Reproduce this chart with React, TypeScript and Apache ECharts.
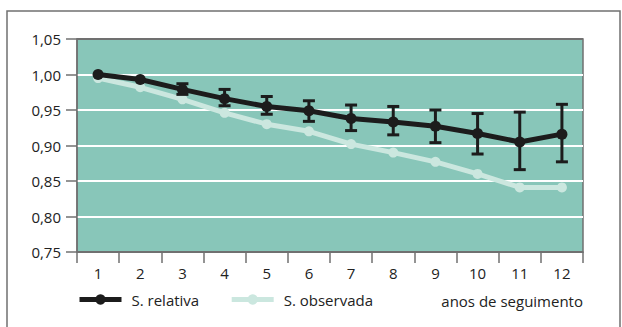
import React, { useEffect, useRef } from "react";
import * as echarts from "echarts";

const categories = ["1", "2", "3", "4", "5", "6", "7", "8", "9", "10", "11", "12"];
const relativa = [1.0, 0.993, 0.979, 0.966, 0.955, 0.949, 0.938, 0.933, 0.927, 0.917, 0.905, 0.916];
const relativaLow = [null, null, 0.972, 0.956, 0.944, 0.934, 0.921, 0.915, 0.904, 0.888, 0.866, 0.877];
const relativaHigh = [null, null, 0.987, 0.979, 0.969, 0.963, 0.957, 0.955, 0.950, 0.945, 0.947, 0.958];
const observada = [0.995, 0.982, 0.965, 0.946, 0.930, 0.920, 0.902, 0.890, 0.877, 0.860, 0.841, 0.841];
const legendNames = ["S. relativa", "S. observada"];
const xAxisTitle = "anos de seguimento";

const BLACK = "#1c1c1c";
const LIGHT = "#cbe7df";
const PLOT_BG = "#88c6b9";
const GRAY = "#707070";
const TEXT = "#222222";
const FONT = "Open Sans";
const FS = 15;

export default function App() {
  const ref = useRef<HTMLDivElement>(null);
  useEffect(() => {
    if (!ref.current) return;
    const chart = echarts.init(ref.current, undefined, { renderer: "svg" });
    const errData = categories
      .map((_, i) => [i, relativaLow[i], relativaHigh[i]])
      .filter((d) => d[1] !== null && d[2] !== null);
    chart.setOption({
      animation: false,
      backgroundColor: "#ffffff",
      textStyle: { fontFamily: FONT },
      grid: {
        left: 77,
        top: 39,
        right: 39,
        bottom: 75,
        show: true,
        backgroundColor: PLOT_BG,
        borderColor: GRAY,
        borderWidth: 1.5,
      },
      legend: {
        data: legendNames,
        left: 77,
        top: 292,
        padding: 0,
        itemWidth: 42,
        itemHeight: 13,
        itemGap: 30,
        lineStyle: { width: 5 },
        textStyle: { fontFamily: FONT, fontSize: FS, color: TEXT, padding: [0, 0, 0, 5] },
        selectedMode: false,
      },
      xAxis: {
        type: "category",
        data: categories,
        boundaryGap: true,
        axisLine: { show: true, lineStyle: { color: GRAY, width: 1.5 } },
        axisTick: { show: true, inside: false, length: 11, lineStyle: { color: GRAY, width: 1.5 } },
        axisLabel: { margin: 13, fontFamily: FONT, fontSize: FS, color: TEXT },
        splitLine: { show: false },
      },
      yAxis: {
        type: "value",
        min: 0.75,
        max: 1.05,
        interval: 0.05,
        axisLine: { show: true, lineStyle: { color: GRAY, width: 1.5 } },
        axisTick: { show: true, inside: false, length: 11, lineStyle: { color: GRAY, width: 1.5 } },
        axisLabel: {
          margin: 16,
          fontFamily: FONT,
          fontSize: FS,
          color: TEXT,
          formatter: (v: number) => v.toFixed(2).replace(".", ","),
        },
        splitLine: {
          show: true,
          lineStyle: { color: [GRAY, "#ffffff", "#ffffff", "#ffffff", "#ffffff", "#ffffff", GRAY], width: 2 },
        },
      },
      graphic: [
        {
          type: "rect",
          shape: { x: 7, y: 11, width: 613, height: 340 },
          style: { fill: "none", stroke: GRAY, lineWidth: 1.5 },
          silent: true,
          z: 0,
        },
        {
          type: "text",
          x: 583,
          y: 301,
          style: {
            text: xAxisTitle,
            fontFamily: FONT,
            fontSize: FS,
            fill: TEXT,
            align: "right",
            verticalAlign: "middle",
          },
        },
      ],
      series: [
        {
          name: legendNames[1],
          type: "line",
          data: observada,
          symbol: "circle",
          symbolSize: 10,
          lineStyle: { color: LIGHT, width: 5 },
          itemStyle: { color: LIGHT },
          z: 2,
        },
        {
          name: "erro",
          type: "custom",
          data: errData,
          z: 3,
          renderItem: (params: any, api: any) => {
            const x = api.value(0);
            const lo = api.coord([x, api.value(1)]);
            const hi = api.coord([x, api.value(2)]);
            const half = 6;
            const style = { stroke: BLACK, lineWidth: 3, fill: "none" };
            return {
              type: "group",
              children: [
                { type: "line", shape: { x1: lo[0], y1: lo[1], x2: hi[0], y2: hi[1] }, style },
                { type: "line", shape: { x1: lo[0] - half, y1: lo[1], x2: lo[0] + half, y2: lo[1] }, style },
                { type: "line", shape: { x1: hi[0] - half, y1: hi[1], x2: hi[0] + half, y2: hi[1] }, style },
              ],
            };
          },
        },
        {
          name: legendNames[0],
          type: "line",
          data: relativa,
          symbol: "circle",
          symbolSize: 11,
          lineStyle: { color: BLACK, width: 5 },
          itemStyle: { color: BLACK },
          z: 4,
        },
      ],
    });
    return () => chart.dispose();
  }, []);
  return (
    <div
      ref={ref}
      style={{ position: "absolute", left: 0, top: 0, width: 622, height: 327 }}
    />
  );
}
